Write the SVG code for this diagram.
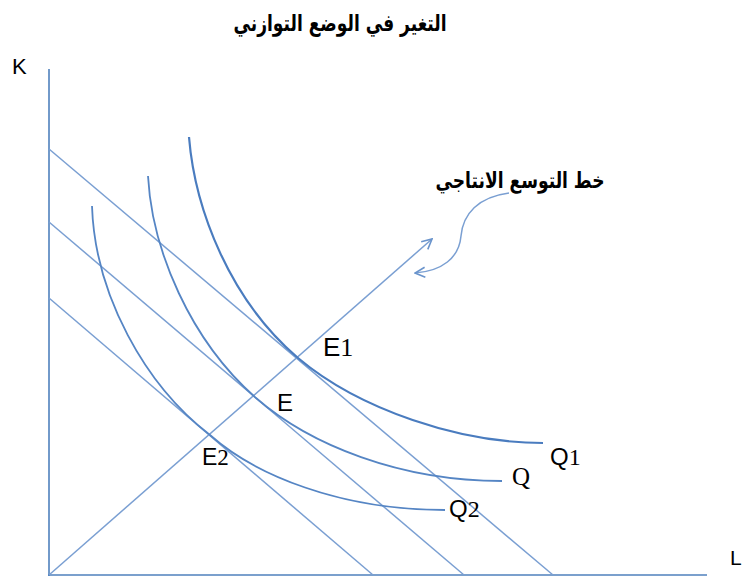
<svg xmlns="http://www.w3.org/2000/svg" width="743" height="581" viewBox="0 0 743 581">
<style>
.axis{stroke:#4f81bd;stroke-width:1.6;fill:none}
.iso{stroke:#7a9fd2;stroke-width:1.5;fill:none}
.q{stroke:#5585c4;stroke-width:1.8;fill:none}
.q1{stroke:#4a7cbf;stroke-width:2.2;fill:none}
.exp{stroke:#7a9fd2;stroke-width:1.5;fill:none}
.lbl{font-family:"Liberation Sans",Arial,sans-serif;fill:#000}
.ser{font-family:"Liberation Serif","Times New Roman",serif}
.ar{font-family:"DejaVu Sans","Noto Sans",sans-serif;font-weight:bold;fill:#000}
</style>
<defs>
<marker id="open" viewBox="0 0 12 12" refX="11" refY="6" markerWidth="12" markerHeight="12" markerUnits="userSpaceOnUse" orient="auto">
<path d="M1,1 L11,6 L1,11" fill="none" stroke="#6a94cc" stroke-width="1.6"/>
</marker>
</defs>
<text class="ar" x="340" y="31" font-size="23" text-anchor="middle" textLength="213" lengthAdjust="spacingAndGlyphs">التغير في الوضع التوازني</text>
<g id="axes">
<line class="axis" x1="49" y1="69" x2="49" y2="576"/>
<line class="axis" x1="48" y1="575" x2="707" y2="575"/>
<text class="lbl" x="12" y="74" font-size="22">K</text>
<text class="lbl" x="730" y="565" font-size="21">L</text>
</g>
<g id="connectors">
<line class="iso" x1="49" y1="149" x2="553" y2="575"/>
<line class="iso" x1="49" y1="222" x2="464" y2="575"/>
<line class="iso" x1="49" y1="298" x2="373" y2="575"/>
<line class="exp" x1="49" y1="575" x2="432" y2="239" marker-end="url(#open)"/>
<path class="exp" d="M509,193 C478,197 463,214 461,236 C459,258 442,271 415,273" marker-end="url(#open)"/>
</g>
<g id="Q1">
<path class="q1" d="M189,137 C195,210 230,300 298,358 C360,410 460,443 543,443"/>
<text class="lbl" x="550" y="465" font-size="24">Q<tspan class="ser">1</tspan></text>
</g>
<g id="Q">
<path class="q" d="M148,176 C152,250 190,340 256,398 C310,445 400,481 502,481"/>
<text class="lbl ser" x="512" y="485" font-size="25">Q</text>
</g>
<g id="Q2">
<path class="q" d="M92,206 C95,295 145,385 210,435 C255,475 340,510 445,510"/>
<text class="lbl" x="449" y="517" font-size="24">Q<tspan class="ser">2</tspan></text>
</g>
<g id="E1"><text class="lbl" x="323" y="356" font-size="26">E<tspan class="ser">1</tspan></text></g>
<g id="E"><text class="lbl" x="277" y="411" font-size="24">E</text></g>
<g id="E2"><text class="lbl" x="202" y="465" font-size="23">E<tspan class="ser">2</tspan></text></g>
<g id="expansion-label">
<text class="ar" x="520" y="188" font-size="22" text-anchor="middle" textLength="169" lengthAdjust="spacingAndGlyphs">خط التوسع الانتاجي</text>
</g>
</svg>
